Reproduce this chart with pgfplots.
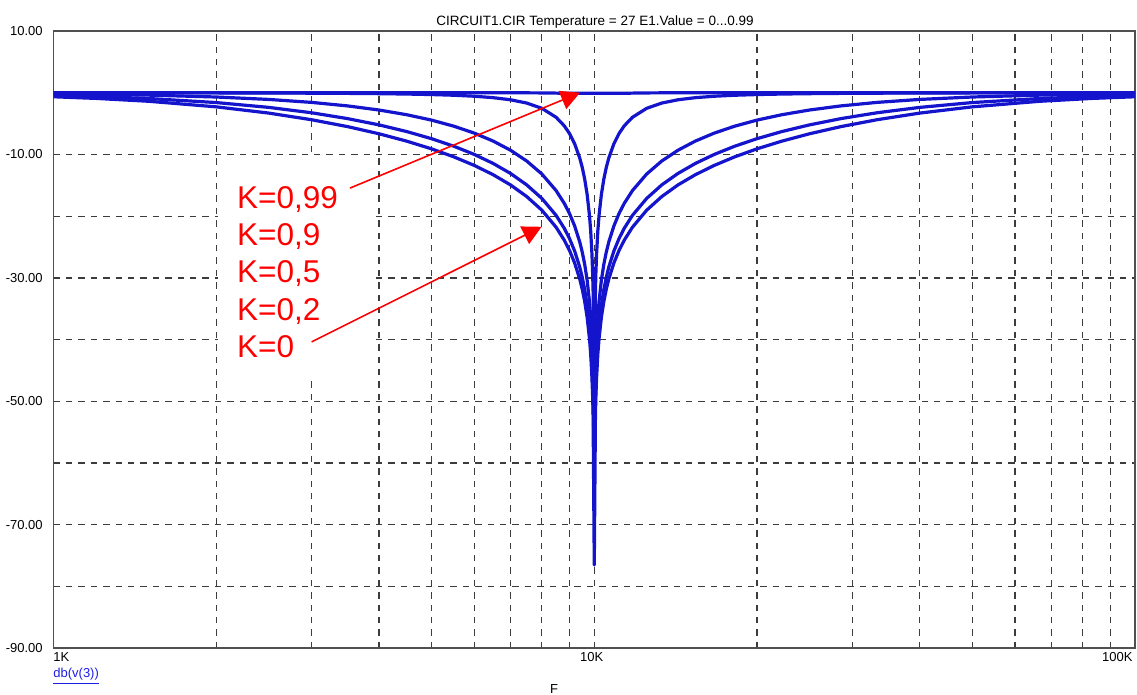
\documentclass[border=0pt]{standalone}
\usepackage{fontspec}
\setmainfont{Liberation Sans}
\usepackage{pgfplots}
\usepackage{pgfplotstable}
\pgfplotsset{compat=1.18}
\usetikzlibrary{arrows.meta}

\definecolor{curve}{RGB}{20,20,205}
\definecolor{gridc}{RGB}{60,60,60}
\definecolor{framec}{RGB}{80,80,80}
\definecolor{lab}{RGB}{30,30,230}

\pgfplotstableread{
f k0 k2 k5 k9 k99
1000 -0.657 -0.432 -0.174 -0.007 0.000
1200 -0.924 -0.614 -0.250 -0.010 0.000
1500 -1.389 -0.938 -0.391 -0.016 0.000
2000 -2.290 -1.597 -0.695 -0.030 0.000
2500 -3.300 -2.376 -1.087 -0.049 -0.001
3000 -4.376 -3.249 -1.568 -0.075 -0.001
3500 -5.497 -4.198 -2.139 -0.109 -0.001
4000 -6.654 -5.214 -2.804 -0.155 -0.002
4500 -7.849 -6.295 -3.567 -0.216 -0.002
5000 -9.091 -7.444 -4.437 -0.298 -0.003
5500 -10.394 -8.673 -5.425 -0.412 -0.004
6000 -11.779 -10.000 -6.547 -0.571 -0.006
6500 -13.278 -11.453 -7.830 -0.802 -0.009
7000 -14.934 -13.073 -9.312 -1.144 -0.013
7500 -16.814 -14.927 -11.057 -1.674 -0.020
8000 -19.032 -17.124 -13.171 -2.529 -0.034
8500 -21.793 -19.871 -15.858 -3.981 -0.065
8800 -23.882 -21.954 -17.914 -5.359 -0.100
9000 -25.563 -23.632 -19.579 -6.618 -0.100
9200 -27.597 -25.663 -21.599 -8.287 -0.100
9400 -30.189 -28.253 -24.181 -10.582 -0.100
9500 -31.818 -29.882 -25.806 -12.092 -0.100
9600 -33.802 -31.865 -27.787 -13.978 -0.100
9700 -36.346 -34.408 -30.328 -16.444 -0.100
9800 -39.912 -37.974 -33.893 -19.956 -0.100
9850 -42.43 -40.50 -36.41 -22.46 -0.100
9900 -45.977 -44.039 -39.957 -25.988 -0.100
9930 -49.09 -47.15 -43.07 -29.09 -0.100
9950 -52.019 -50.081 -45.999 -32.022 -0.100
10000 -76.5 -59.5 -57.0 -48.5 -0.100
10050 -52.019 -50.081 -45.999 -32.022 -0.100
10070 -49.09 -47.15 -43.07 -29.09 -0.100
10101 -45.977 -44.039 -39.957 -25.988 -0.100
10152 -42.43 -40.50 -36.41 -22.46 -0.100
10204 -39.912 -37.974 -33.893 -19.956 -0.100
10309 -36.346 -34.408 -30.328 -16.444 -0.100
10417 -33.802 -31.865 -27.787 -13.978 -0.100
10526 -31.818 -29.882 -25.806 -12.092 -0.100
10638 -30.189 -28.253 -24.181 -10.582 -0.100
10870 -27.597 -25.663 -21.599 -8.287 -0.100
11111 -25.563 -23.632 -19.579 -6.618 -0.100
11364 -23.882 -21.954 -17.914 -5.359 -0.100
11765 -21.793 -19.871 -15.858 -3.981 -0.065
12500 -19.032 -17.124 -13.171 -2.529 -0.034
13333 -16.814 -14.927 -11.057 -1.674 -0.020
14286 -14.934 -13.073 -9.312 -1.144 -0.013
15385 -13.278 -11.453 -7.830 -0.802 -0.009
16667 -11.779 -10.000 -6.547 -0.571 -0.006
18182 -10.394 -8.673 -5.425 -0.412 -0.004
20000 -9.091 -7.444 -4.437 -0.298 -0.003
22222 -7.849 -6.295 -3.567 -0.216 -0.002
25000 -6.654 -5.214 -2.804 -0.155 -0.002
28571 -5.497 -4.198 -2.139 -0.109 -0.001
33333 -4.376 -3.249 -1.568 -0.075 -0.001
40000 -3.300 -2.376 -1.087 -0.049 -0.001
50000 -2.290 -1.597 -0.695 -0.030 0.000
66667 -1.389 -0.938 -0.391 -0.016 0.000
83333 -0.924 -0.614 -0.250 -0.010 0.000
100000 -0.657 -0.432 -0.174 -0.007 0.000
}\notch

\begin{document}
\begin{tikzpicture}
\begin{axis}[
  at={(0,0)}, anchor=south west,
  scale only axis, width=540.75pt, height=308.65pt,
  xmode=log, log basis x=10,
  xmin=1000, xmax=100000, ymin=-90, ymax=10,
  xtick={1000,10000,100000}, xticklabels={,,},
  minor xtick={2000,3000,4000,5000,6000,7000,8000,9000,20000,30000,40000,50000,60000,70000,80000,90000},
  ytick={-90,-80,...,10},
  yticklabels={-90.00,,-70.00,,-50.00,,-30.00,,-10.00,,10.00},
  grid=both,
  major grid style={gridc, line width=0.6pt, dash pattern=on 3.2pt off 3pt},
  minor grid style={gridc, line width=0.6pt, dash pattern=on 3.2pt off 3pt},
  major tick length=0pt, minor tick length=0pt,
  axis line style={framec, line width=0.9pt},
  yticklabel style={font=\fontsize{6.5}{7}\selectfont, inner sep=0pt, anchor=east, xshift=-5.25pt},
]
\addplot[curve, line width=1.6pt, line join=round] table[x=f,y=k99]{\notch};
\addplot[curve, line width=1.6pt, line join=round] table[x=f,y=k9]{\notch};
\addplot[curve, line width=1.6pt, line join=round] table[x=f,y=k5]{\notch};
\addplot[curve, line width=1.6pt, line join=round] table[x=f,y=k2]{\notch};
\addplot[curve, line width=1.6pt, line join=round] table[x=f,y=k0]{\notch};
\fill[white] (axis cs:2015,-10.42) rectangle (axis cs:3931,-46.4);
\draw[red, line width=0.8pt, -{Triangle[length=9.5pt,width=9.7pt]}] (axis cs:3534,-15.45) -- (axis cs:9411,0);
\draw[red, line width=0.8pt, -{Triangle[length=9.5pt,width=9.7pt]}] (axis cs:3002,-40.36) -- (axis cs:7993,-21.72);
\end{axis}
\begin{scope}[every node/.style={inner sep=0pt, font=\fontsize{6.5}{7}\selectfont}]
\node[anchor=base, font=\fontsize{6.75}{8}\selectfont] at (270.75pt,311.15pt) {CIRCUIT1.CIR Temperature = 27 E1.Value = 0...0.99};
\node[anchor=base west] at (-0.25pt,-6.85pt) {1K};
\node[anchor=base] at (269.1pt,-6.85pt) {10K};
\node[anchor=base east] at (539.75pt,-6.85pt) {100K};
\node[anchor=base west, text=lab] at (-0.25pt,-14.85pt) {\underline{db(v(3))}};
\node[anchor=base] at (250.25pt,-22.5pt) {F};
\end{scope}
\begin{scope}[every node/.style={inner sep=0pt, anchor=base west, text=red, font=\fontsize{15.75}{18}\selectfont}]
\node at (91.6pt,220pt) {K=0,99};
\node at (91.6pt,201.35pt) {K=0,9};
\node at (91.6pt,182.7pt) {K=0,5};
\node at (91.6pt,164.05pt) {K=0,2};
\node at (91.6pt,145.4pt) {K=0};
\end{scope}
\pgfresetboundingbox
\path (-26.75pt,-23.35pt) rectangle (541.75pt,324.15pt);
\end{tikzpicture}
\end{document}
